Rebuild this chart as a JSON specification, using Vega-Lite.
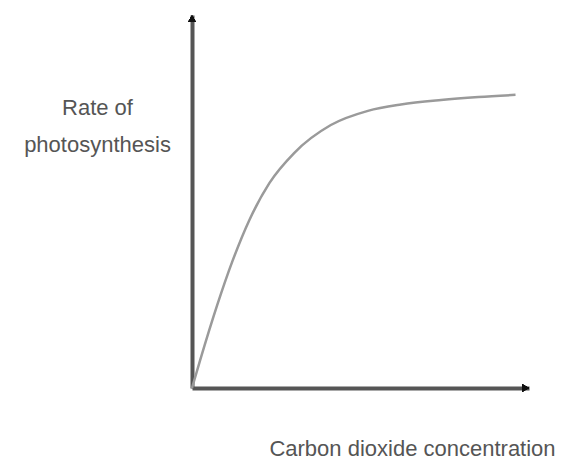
{
  "$schema": "https://vega.github.io/schema/vega-lite/v6.json",
  "width": 337,
  "height": 373,
  "autosize": {"type": "none"},
  "padding": {"left": 192, "top": 15, "right": 40, "bottom": 77},
  "background": "white",
  "config": {"view": {"stroke": null}},
  "data": {"values": [
    {"co2": 0, "rate": 0},
    {"co2": 2.4, "rate": 7.4},
    {"co2": 7.4, "rate": 22},
    {"co2": 12, "rate": 34},
    {"co2": 17, "rate": 45},
    {"co2": 23, "rate": 55},
    {"co2": 30.3, "rate": 63},
    {"co2": 41.2, "rate": 70.5},
    {"co2": 52.2, "rate": 74.3},
    {"co2": 62, "rate": 76},
    {"co2": 73.9, "rate": 77.2},
    {"co2": 85, "rate": 78},
    {"co2": 96, "rate": 78.6}
  ]},
  "layer": [
    {
      "mark": {"type": "line", "interpolate": "monotone", "color": "#9a9a9a", "strokeWidth": 2.5},
      "encoding": {
        "x": {"field": "co2", "type": "quantitative", "scale": {"domain": [0, 100], "nice": false},
          "axis": {"title": "Carbon dioxide concentration", "labels": false, "ticks": false, "grid": false,
            "domainColor": "#555", "domainWidth": 4,
            "titleFont": "Liberation Sans", "titleFontWeight": "normal", "titleFontSize": 22, "titleColor": "#555",
            "titleAlign": "center", "titleBaseline": "middle", "titleX": 220, "titleY": 60}},
        "y": {"field": "rate", "type": "quantitative", "scale": {"domain": [0, 100], "nice": false},
          "axis": {"title": ["Rate of", "photosynthesis"], "labels": false, "ticks": false, "grid": false,
            "domainColor": "#555", "domainWidth": 4,
            "titleFont": "Liberation Sans", "titleFontWeight": "normal", "titleFontSize": 22, "titleColor": "#555",
            "titleAngle": 0, "titleAlign": "center", "titleBaseline": "top", "titleLineHeight": 37,
            "titleX": -95, "titleY": 82}}
      }
    },
    {
      "mark": {"type": "point", "shape": "triangle-up", "filled": true, "color": "#111", "size": 60, "opacity": 1},
      "encoding": {"x": {"datum": 0, "type": "quantitative"}, "y": {"datum": 99, "type": "quantitative"}}
    },
    {
      "mark": {"type": "point", "shape": "triangle-right", "filled": true, "color": "#111", "size": 60, "opacity": 1},
      "encoding": {"x": {"datum": 99, "type": "quantitative"}, "y": {"datum": 0, "type": "quantitative"}}
    }
  ]
}
